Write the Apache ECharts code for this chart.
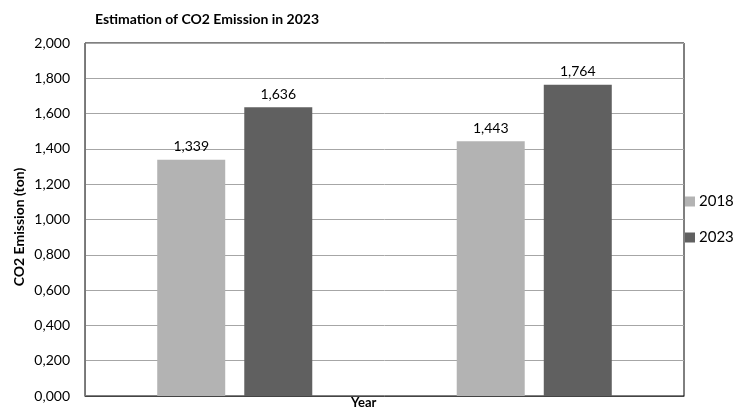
<!DOCTYPE html>
<html>
<head>
<meta charset="utf-8">
<script src="https://cdn.jsdelivr.net/npm/echarts@6/dist/echarts.min.js"></script>
<style>
html,body{margin:0;padding:0;background:#fff;}
#c{width:734px;height:410px;}
</style>
</head>
<body>
<div id="c"></div>
<script>
var categories = ['', ''];
var seriesNames = ['2018', '2023'];
var values2018 = [1339, 1443];
var values2023 = [1636, 1764];
var yTicks = [0, 200, 400, 600, 800, 1000, 1200, 1400, 1600, 1800, 2000];

function fmt(v) {
  var t = Math.floor(v / 1000);
  var r = Math.round(v % 1000);
  return t + ',' + String(r).padStart(3, '0');
}

var FONT = 'Lato';
var chart = echarts.init(document.getElementById('c'), null, {renderer: 'canvas'});
chart.setOption({
  animation: false,
  backgroundColor: '#fff',
  textStyle: {fontFamily: FONT},
  title: {
    text: 'Estimation of CO2 Emission in 2023',
    left: 90, top: 7,
    textStyle: {fontFamily: FONT, fontSize: 14, fontWeight: 'bold', color: '#000'}
  },
  legend: {
    orient: 'vertical',
    left: 680, top: 189,
    itemWidth: 10, itemHeight: 10, itemGap: 21,
    icon: 'rect',
    data: seriesNames,
    textStyle: {fontFamily: FONT, fontSize: 15, color: '#000', padding: [0,0,0,-1]}
  },
  grid: {
    left: 85, right: 50, top: 43, bottom: 14,
    show: true, borderColor: '#000', borderWidth: 1, backgroundColor: 'transparent'
  },
  xAxis: {
    type: 'category',
    data: categories,
    axisLine: {lineStyle: {color: '#444'}},
    axisTick: {show: false},
    axisLabel: {show: false},
    splitLine: {show: false}
  },
  yAxis: {
    type: 'value',
    min: yTicks[0], max: yTicks[yTicks.length - 1], interval: 200,
    axisLine: {show: true, lineStyle: {color: '#777'}},
    axisTick: {show: false},
    splitLine: {lineStyle: {color: '#a6a6a6', width: 1}},
    axisLabel: {
      formatter: function (v) { return fmt(v); },
      fontFamily: FONT, fontSize: 14, color: '#000', margin: 15
    }
  },
  graphic: [
    {type: 'text', left: 351, top: 396, style: {text: 'Year', fontFamily: FONT, fontSize: 13, fontWeight: 'bold', fill: '#000'}},
    {type: 'text', x: 19, y: 227, rotation: Math.PI / 2, style: {text: 'CO2 Emission (ton)', fontFamily: FONT, fontSize: 14, fontWeight: 'bold', fill: '#000', align: 'center', verticalAlign: 'middle'}}
  ],
  series: [
    {
      name: seriesNames[0], type: 'bar', data: values2018,
      barWidth: 68, barGap: '28%',
      itemStyle: {color: '#b3b3b3'},
      label: {show: true, position: 'top', distance: 6, formatter: function (p) { return fmt(p.value); }, fontFamily: FONT, fontSize: 14, color: '#000'}
    },
    {
      name: seriesNames[1], type: 'bar', data: values2023,
      barWidth: 68,
      itemStyle: {color: '#606060'},
      label: {show: true, position: 'top', distance: 6, formatter: function (p) { return fmt(p.value); }, fontFamily: FONT, fontSize: 14, color: '#000'}
    }
  ]
});
</script>
</body>
</html>
